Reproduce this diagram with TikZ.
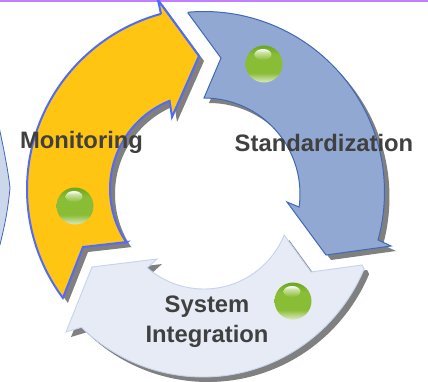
\documentclass[tikz,border=0pt]{standalone}
\usepackage{fontspec}
\setmainfont{Liberation Sans}
\definecolor{labelc}{HTML}{404040}
\definecolor{shadowc}{HTML}{808080}
\definecolor{yfill}{HTML}{FFC512}
\definecolor{yedge}{HTML}{4F6BFF}
\definecolor{bfill}{HTML}{91A8D2}
\definecolor{bedge}{HTML}{3F68B8}
\definecolor{lfill}{HTML}{E6EBF6}
\definecolor{ledge}{HTML}{C5D3EB}
\definecolor{topline}{HTML}{C080FF}
\definecolor{ghalo}{HTML}{CFE4AE}
\definecolor{gdark}{HTML}{6AA81C}
\definecolor{gmid}{HTML}{8ABD36}
\pgfdeclareverticalshading{ballv}{100bp}{color(0bp)=(ghalo); color(27bp)=(ghalo); color(38bp)=(gmid); color(62bp)=(gmid); color(75bp)=(gdark); color(100bp)=(gdark)}
\pgfdeclareverticalshading{glintv}{100bp}{color(0bp)=(gmid); color(25bp)=(gmid); color(60bp)=(gmid!45!white); color(75bp)=(white); color(100bp)=(white)}
\tikzset{
  lab/.style={font=\fontsize{23.8}{26}\selectfont\bfseries,text=labelc,anchor=base,inner sep=0pt},
  shadowshape/.style={fill=shadowc,shift={(5,5)}},
  arcplot/.style={domain=#1,samples=48,smooth},
}
\newcommand{\yellowpath}{(158,0) -- (161,14)
  -- plot[arcplot=254.7:143.4] ({209+182*cos(\x)},{189.4+182*sin(\x)})
  -- (83,247) -- (127,242)
  -- plot[arcplot=145.8:248.1] ({205+95*cos(\x)},{189+95*sin(\x)})
  -- (172,117) -- (199,56) -- cycle}
\newcommand{\bluepath}{(188,13)
  -- plot[arcplot=265:375.4] ({204+180.5*cos(\x)},{192+180.5*sin(\x)})
  -- (391,246) -- (326,255) -- (287,202) -- (299,207)
  -- plot[arcplot=367.8:270] ({204+96*cos(\x)},{194+96*sin(\x)})
  -- (221,58) -- cycle}
\newcommand{\lightpath}{(362,265)
  -- plot[arcplot=23:134] ({203+175*cos(\x)},{200+177*sin(\x)})
  -- (66,332) -- (92,267) -- (157,259) -- (147,268)
  -- plot[arcplot=131:22.1] ({204+86.5*cos(\x)},{202.5+86.5*sin(\x)})
  -- (311,272) -- cycle}
\newcommand{\greenball}[2]{%
  \shade[shading=ballv] (#1,#2) circle (18.5);
  \shade[shading=glintv] (#1-1,#2-9.5) ellipse (8.5 and 5.5);
}
\begin{document}
\begin{tikzpicture}[x=1pt,y=-1pt]
\useasboundingbox (0,0) rectangle (428,381);
\clip (0,0) rectangle (428,381);
\fill[white] (0,0) rectangle (428,381);
\fill[topline] (0,0) rectangle (428,1.5);
% left fragment
\draw[fill=lfill!70!bfill,draw=bedge,line width=0.8pt] (-2,122) .. controls (4,150) and (8,170) .. (10,188) .. controls (8,210) and (4,230) .. (-2,252);
% shadows
\fill[shadowshape] \lightpath;
\fill[shadowshape] \bluepath;
\fill[shadowshape] \yellowpath;
% shapes
\draw[fill=lfill,draw=ledge,line width=0.9pt,line join=miter] \lightpath;
\draw[fill=bfill,draw=bedge,line width=1pt,line join=miter] \bluepath;
\draw[fill=yfill,draw=yedge,line width=2pt,line join=miter] \yellowpath;
% balls
\greenball{264}{64}
\greenball{75}{206}
\greenball{293}{301}
% labels
\node[lab] (monitoring) at (81.5,148) {Monitoring};
\node[lab] (standard) at (324,151) {Standardization};
\node[lab] (system) at (207,312) {System};
\node[lab] (integration) at (207,342) {Integration};
\end{tikzpicture}
\end{document}
